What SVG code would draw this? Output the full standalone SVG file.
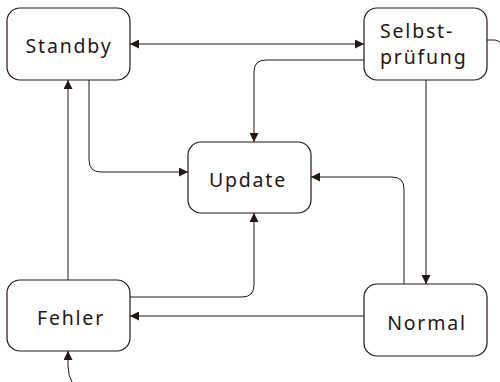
<svg xmlns="http://www.w3.org/2000/svg" width="500" height="382" viewBox="0 0 500 382">
<style>
.box{fill:#fff;stroke:#231815;stroke-width:1.2}
.lbl{font-family:"Noto Sans","DejaVu Sans",sans-serif;font-size:19.5px;letter-spacing:1.8px;fill:#231815}
.c{fill:none;stroke:#231815;stroke-width:1}
</style>
<defs>
<marker id="ah" viewBox="0 0 10 10" refX="10" refY="5" markerWidth="9" markerHeight="9" markerUnits="userSpaceOnUse" orient="auto-start-reverse">
<path d="M0,0 L10,5 L0,10 Z" fill="#231815"/>
</marker>
</defs>
<rect width="500" height="382" fill="#fff"/>
<g id="connectors">
<path class="c" d="M130,44 H364" marker-start="url(#ah)" marker-end="url(#ah)"/>
<path class="c" d="M364,60 H266 Q254,60 254,72 V142" marker-end="url(#ah)"/>
<path class="c" d="M426,80 V284" marker-end="url(#ah)"/>
<path class="c" d="M487,40 H495 Q499,40 501,44"/>
<path class="c" d="M89,80 V160 Q89,172 101,172 H188" marker-end="url(#ah)"/>
<path class="c" d="M68,280 V80" marker-end="url(#ah)"/>
<path class="c" d="M130,297 H242 Q254,297 254,285 V213" marker-end="url(#ah)"/>
<path class="c" d="M404,284 V189 Q404,177 392,177 H311" marker-end="url(#ah)"/>
<path class="c" d="M364,316 H130" marker-end="url(#ah)"/>
<path class="c" d="M73,384 Q68,376 68,366 V351" marker-end="url(#ah)"/>
</g>
<g id="standby"><rect class="box" x="7" y="8" width="123" height="72" rx="13"/><text class="lbl" x="69" y="53" text-anchor="middle">Standby</text></g>
<g id="selbstpruefung"><rect class="box" x="364" y="8" width="123" height="72" rx="13"/><text class="lbl" x="380" y="38">Selbst-</text><text class="lbl" x="380" y="64">prüfung</text></g>
<g id="update"><rect class="box" x="188" y="142" width="123" height="71" rx="13"/><text class="lbl" x="248" y="187" text-anchor="middle">Update</text></g>
<g id="fehler"><rect class="box" x="7" y="280" width="123" height="71" rx="13"/><text class="lbl" x="71" y="325" text-anchor="middle">Fehler</text></g>
<g id="normal"><rect class="box" x="364" y="284" width="123" height="72" rx="13"/><text class="lbl" x="427" y="330" text-anchor="middle">Normal</text></g>
</svg>
